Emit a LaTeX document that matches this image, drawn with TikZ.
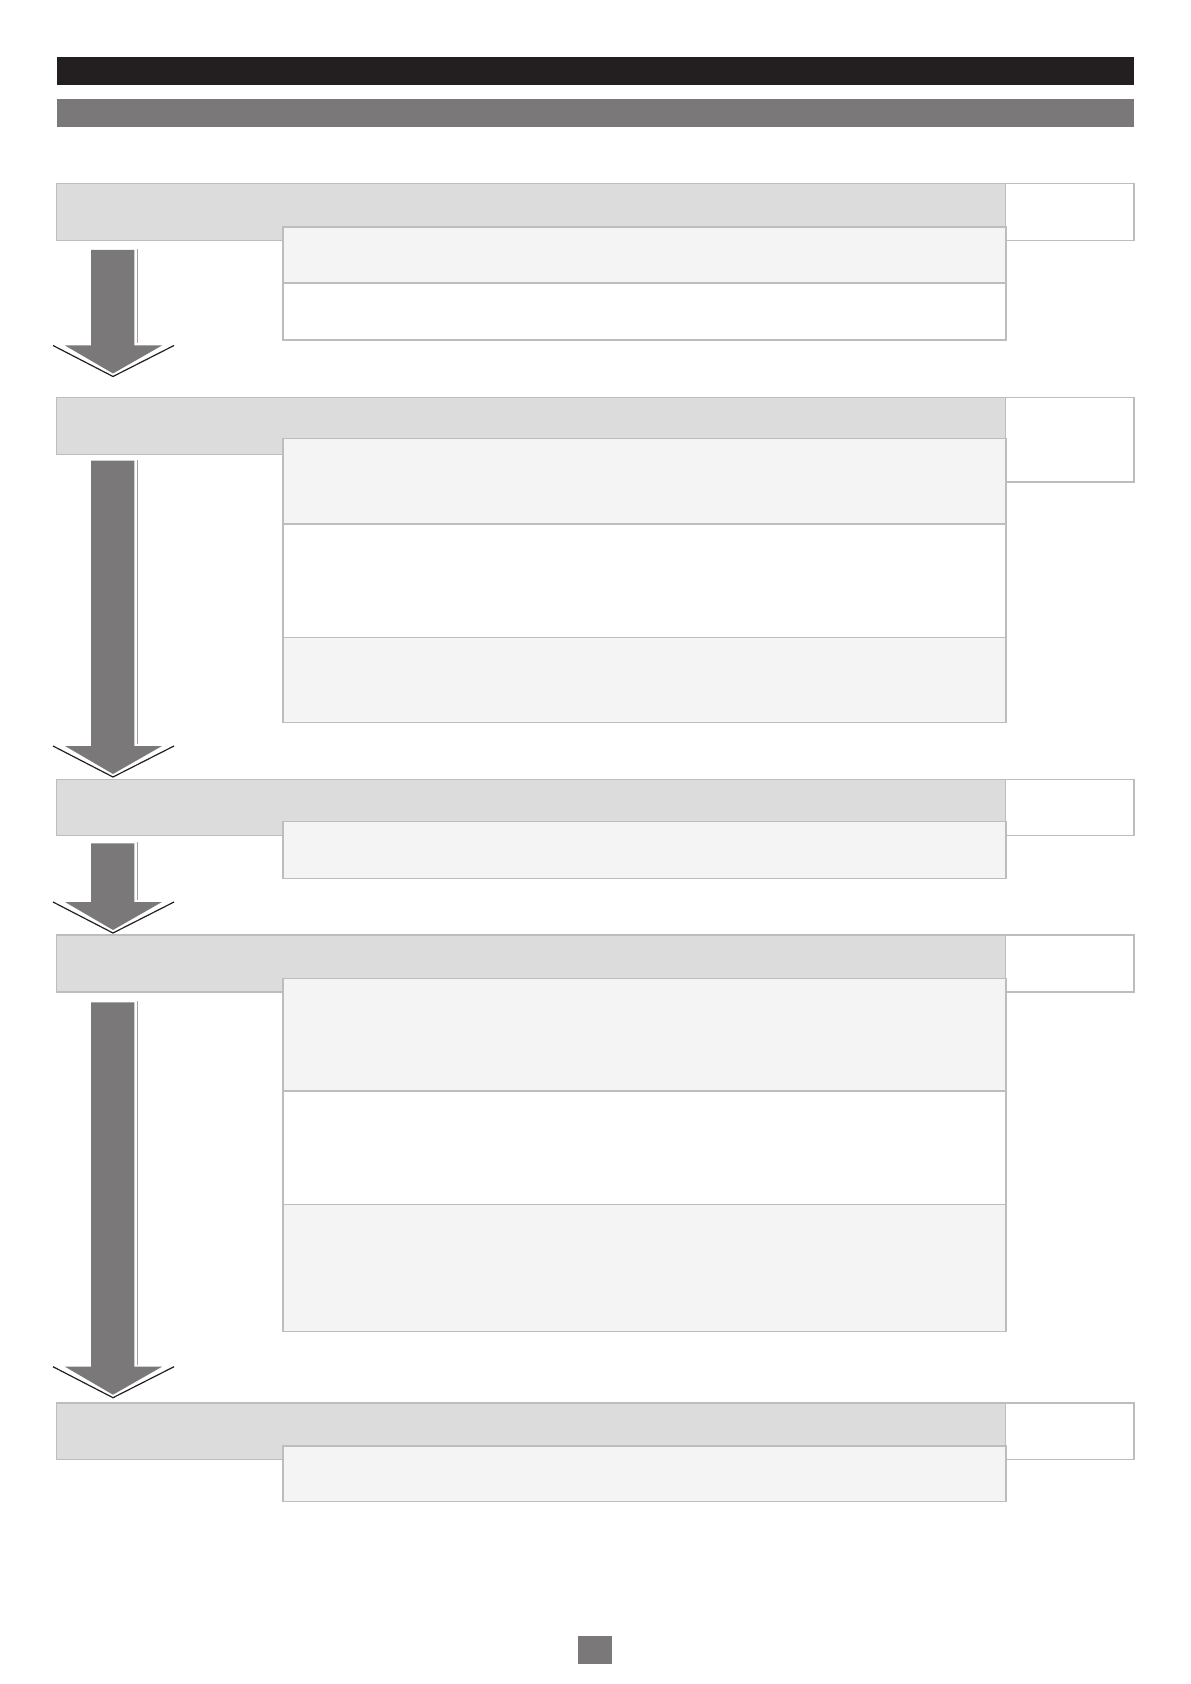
\documentclass[tikz,border=0pt]{standalone}
\usepackage{xcolor}
\usepackage{tikz}
\usetikzlibrary{positioning}
\definecolor{barblack}{HTML}{231F20}
\definecolor{bargrey}{HTML}{7A7878}
\definecolor{headgrey}{HTML}{DCDCDC}
\definecolor{rulegrey}{HTML}{BDBDBD}
\definecolor{paleshade}{HTML}{F4F4F4}
\tikzset{
  boxbase/.style={rectangle,draw=rulegrey,line width=0.65pt,inner sep=0pt,
                  outer sep=0pt,anchor=north west},
  barnode/.style={rectangle,inner sep=0pt,outer sep=0pt,anchor=north west,
                  minimum width=538.75pt,minimum height=14.2pt},
  headnode/.style={boxbase,fill=headgrey,minimum width=474.5pt,minimum height=28.5pt},
  sidenode/.style={boxbase,fill=white,minimum width=64.25pt,minimum height=28.5pt},
  subnode/.style={boxbase,fill=paleshade,minimum width=361.5pt},
  subplain/.style={subnode,fill=white},
  shaftline/.style={draw=bargrey!70,line width=0.5pt},
  tipline/.style={draw=barblack,line width=0.6pt},
}
\begin{document}
\begin{tikzpicture}[x=0.5pt,y=-0.5pt]
  \useasboundingbox (0,0) rectangle (1190,1684);
  % title bars
  \node[barnode,fill=barblack] (titlebar) at (56.5,56.7) {};
  \node[barnode,fill=bargrey] (subtitlebar) at (56.5,99) {};
  % block arrows between the stages
  \foreach \top/\base in {250/345.5,460.7/746,843.3/902,1002.3/1366.7}{
    \fill[bargrey] (91,\top) -- (134.3,\top) -- (134.3,\base) -- (162,\base)
      -- (113,\base+28) -- (65,\base) -- (91,\base) -- cycle;
    \draw[shaftline] (137.3,\top-1) -- (137.3,\base-2);
    \draw[tipline] (53,\base) -- (113,\base+31) -- (174,\base);
  }
  % stage 1
  \node[headnode] (head1) at (56.5,183.7) {};
  \node[sidenode] (side1) at (head1.north east) {};
  \node[subnode,minimum height=28pt] (sub1a) at (283,227) {};
  \node[subplain,minimum height=28.5pt,below=0pt of sub1a] (sub1b) {};
  % stage 2
  \node[headnode] (head2) at (56.5,397.3) {};
  \node[sidenode,minimum height=42.35pt] (side2) at (head2.north east) {};
  \node[subnode,minimum height=42.75pt] (sub2a) at (283,438.5) {};
  \node[subplain,minimum height=56.65pt,below=0pt of sub2a] (sub2b) {};
  \node[subnode,minimum height=42.7pt,below=0pt of sub2b] (sub2c) {};
  % stage 3
  \node[headnode,minimum height=28pt] (head3) at (56.5,779.7) {};
  \node[sidenode,minimum height=28pt] (side3) at (head3.north east) {};
  \node[subnode,minimum height=28.55pt] (sub3a) at (283,821.6) {};
  % stage 4
  \node[headnode] (head4) at (56.5,935) {};
  \node[sidenode] (side4) at (head4.north east) {};
  \node[subnode,minimum height=56.35pt] (sub4a) at (283,978.3) {};
  \node[subplain,minimum height=56.85pt,below=0pt of sub4a] (sub4b) {};
  \node[subnode,minimum height=63.5pt,below=0pt of sub4b] (sub4c) {};
  % stage 5
  \node[headnode,minimum height=28.2pt] (head5) at (56.5,1403) {};
  \node[sidenode,minimum height=28.2pt] (side5) at (head5.north east) {};
  \node[subnode,minimum height=27.85pt] (sub5a) at (283,1446) {};
  % page marker
  \node[rectangle,fill=bargrey,inner sep=0pt,anchor=north west,
        minimum width=17pt,minimum height=13.85pt] (pagemark) at (578,1636) {};
\end{tikzpicture}
\end{document}
